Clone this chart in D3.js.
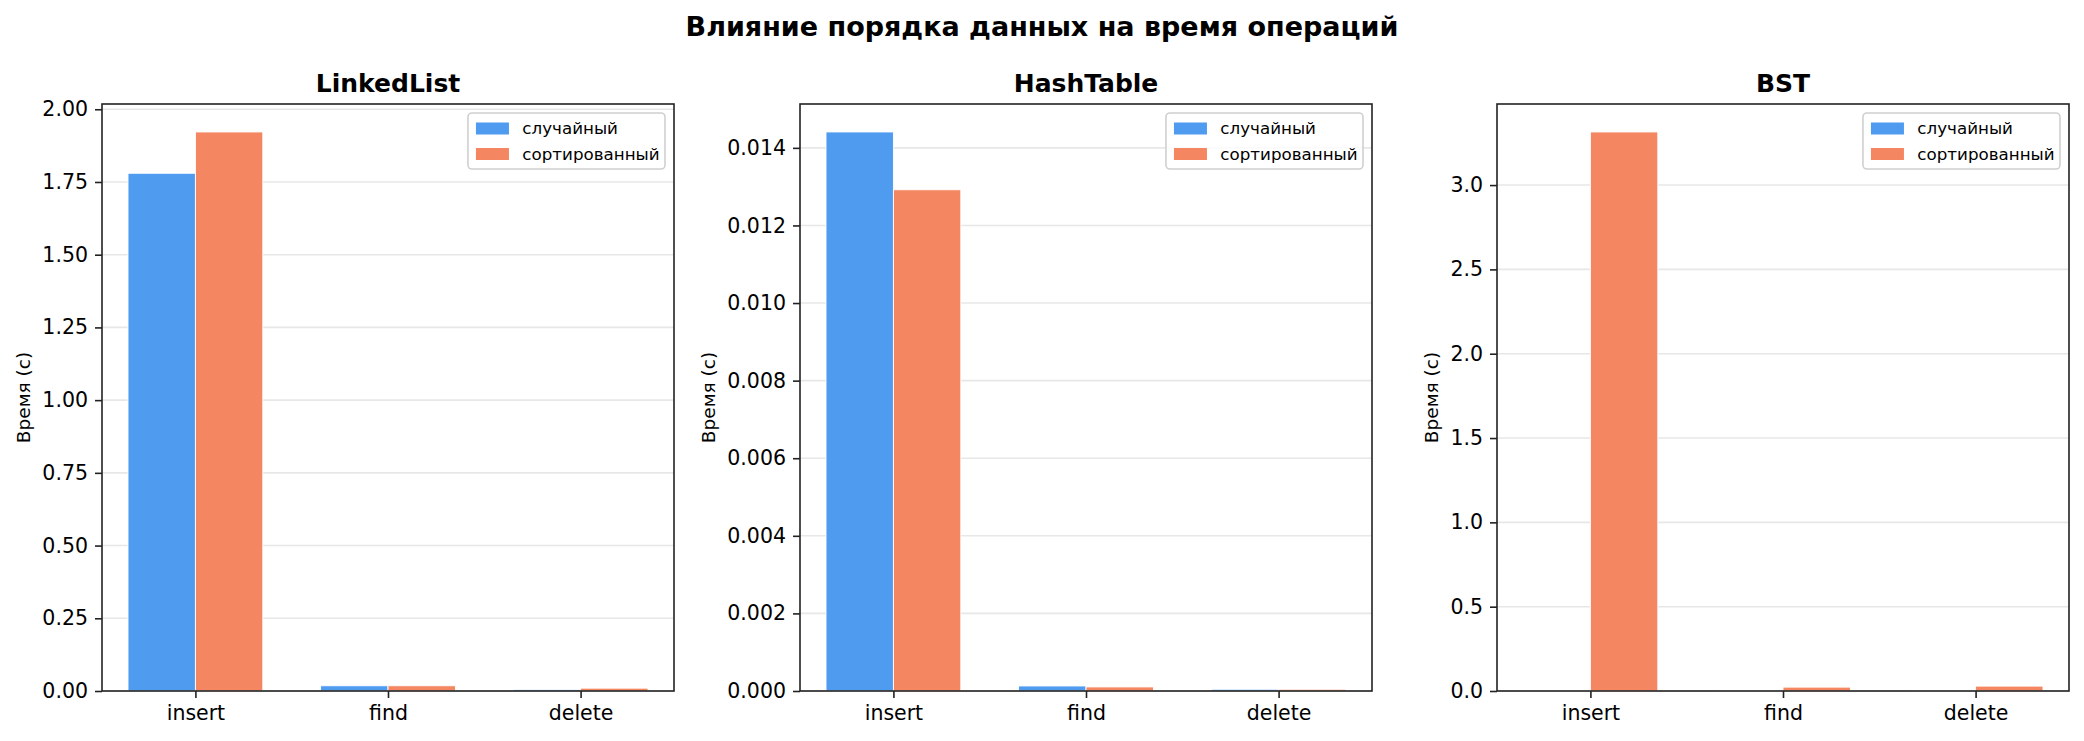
<!DOCTYPE html>
<html lang="ru">
<head>
<meta charset="UTF-8">
<script src="https://d3js.org/d3.v7.min.js"></script>
<style>
  body { margin: 0; background: #fff; }
  text { font-family: "DejaVu Sans", sans-serif; fill: #000; }
</style>
</head>
<body>
<div id="chart"></div>
<script>
// data
const categories = ["insert", "find", "delete"];
const seriesNames = ["случайный", "сортированный"];
const panelTitles = ["LinkedList", "HashTable", "BST"];

const linkedRandom = [1.780, 0.018, 0.0055];
const linkedSorted = [1.922, 0.018, 0.0098];
const hashRandom = [0.01441, 0.00013, 0.000045];
const hashSorted = [0.01292, 0.000105, 0.000045];
const bstRandom = [0.0025, 0.00015, 0.0002];
const bstSorted = [3.315, 0.023, 0.029];

const linkedTicks = [0, 0.25, 0.5, 0.75, 1.0, 1.25, 1.5, 1.75, 2.0];
const hashTicks = [0, 0.002, 0.004, 0.006, 0.008, 0.010, 0.012, 0.014];
const bstTicks = [0, 0.5, 1.0, 1.5, 2.0, 2.5, 3.0];

const colors = ["#4f9bf0", "#f48762"];

const width = 2084, height = 741;
const svg = d3.select("#chart").append("svg")
  .attr("width", width)
  .attr("height", height);

svg.append("text")
  .attr("x", width / 2)
  .attr("y", 36)
  .attr("text-anchor", "middle")
  .attr("font-weight", "bold")
  .attr("font-size", 27)
  .text("Влияние порядка данных на время операций");

const panels = [
  { title: panelTitles[0], series: [linkedRandom, linkedSorted], ticks: linkedTicks, fmt: d3.format(".2f"), left: 102 },
  { title: panelTitles[1], series: [hashRandom, hashSorted], ticks: hashTicks, fmt: d3.format(".3f"), left: 800 },
  { title: panelTitles[2], series: [bstRandom, bstSorted], ticks: bstTicks, fmt: d3.format(".1f"), left: 1497 }
];

const pw = 572, plotTop = 104, plotBottom = 691;
const barW = 0.35;
const axisColor = "#222";

panels.forEach(p => {
  const g = svg.append("g");
  const maxV = d3.max(p.series.flat());
  const x = d3.scaleLinear().domain([-0.485, 2.485]).range([p.left, p.left + pw]);
  const y = d3.scaleLinear().domain([0, maxV * 1.05]).range([plotBottom, plotTop]);

  // grid
  g.selectAll(".grid").data(p.ticks).enter().append("line")
    .attr("x1", p.left).attr("x2", p.left + pw)
    .attr("y1", d => y(d)).attr("y2", d => y(d))
    .attr("stroke", "#b0b0b0").attr("stroke-opacity", 0.3)
    .attr("stroke-width", 1.6);

  // bars
  p.series.forEach((vals, s) => {
    g.selectAll(".bar" + s).data(vals).enter().append("rect")
      .attr("x", (d, i) => x(i + (s === 0 ? -barW : 0)))
      .attr("width", x(barW) - x(0))
      .attr("y", d => y(d))
      .attr("height", d => plotBottom - y(d))
      .attr("fill", colors[s])
      .attr("stroke", "#fff")
      .attr("stroke-width", 0.9);
  });

  // axes
  const yAxis = g.append("g")
    .attr("transform", `translate(${p.left},0)`)
    .call(d3.axisLeft(y).tickValues(p.ticks).tickFormat(p.fmt).tickSize(7).tickPadding(7));
  const xAxis = g.append("g")
    .attr("transform", `translate(0,${plotBottom})`)
    .call(d3.axisBottom(x).tickValues([0, 1, 2]).tickFormat(i => categories[i]).tickSize(7).tickPadding(7));
  [yAxis, xAxis].forEach(a => {
    a.select(".domain").remove();
    a.selectAll("line").attr("stroke", axisColor).attr("stroke-width", 1.6);
    a.selectAll("text").attr("font-size", 20.5).attr("fill", "#000")
      .style("font-family", "DejaVu Sans");
  });

  // frame
  g.append("rect")
    .attr("x", p.left).attr("y", plotTop)
    .attr("width", pw).attr("height", plotBottom - plotTop)
    .attr("fill", "none").attr("stroke", axisColor).attr("stroke-width", 1.6);

  // title
  g.append("text")
    .attr("x", p.left + pw / 2).attr("y", plotTop - 12)
    .attr("text-anchor", "middle")
    .attr("font-weight", "bold")
    .attr("font-size", 25)
    .text(p.title);

  // y label, placed left of the tick labels
  const bb = yAxis.node().getBBox();
  const lx = p.left + bb.x - 8 - 4;
  g.append("text")
    .attr("transform", `translate(${lx},${(plotTop + plotBottom) / 2}) rotate(-90)`)
    .attr("text-anchor", "middle")
    .attr("font-size", 18.5)
    .text("Время (с)");

  // legend
  const fs = 16.7;
  const leg = g.append("g");
  const texts = seriesNames.map((n, i) => leg.append("text")
    .attr("font-size", fs)
    .attr("dy", "0.35em")
    .text(n));
  const tw = d3.max(texts, t => t.node().getComputedTextLength());
  const boxW = 6.7 + 33 + 13.4 + tw + 6.7;
  const boxH = 56;
  const bx = p.left + pw - 9 - boxW, by = plotTop + 9;
  leg.insert("rect", ":first-child")
    .attr("x", bx).attr("y", by)
    .attr("width", boxW).attr("height", boxH)
    .attr("rx", 4)
    .attr("fill", "#fff").attr("fill-opacity", 0.8)
    .attr("stroke", "#d0d0d0").attr("stroke-width", 1.6);
  seriesNames.forEach((n, i) => {
    const cy = by + 15.5 + i * 25.5;
    leg.append("rect")
      .attr("x", bx + 8).attr("y", cy - 6)
      .attr("width", 33).attr("height", 12)
      .attr("fill", colors[i]);
    texts[i].attr("x", bx + 8 + 33 + 13.4).attr("y", cy);
  });
});
</script>
</body>
</html>
